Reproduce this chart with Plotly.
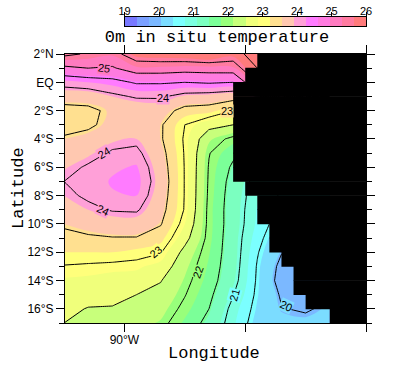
import numpy as np
import plotly.graph_objects as go

lats = [2, 1, 0, -1, -2, -3, -4, -5, -6, -7, -8, -9, -10, -11, -12, -13, -14, -15, -16, -17]
lons = [-95, -93, -91, -89, -87, -85, -83, -81, -79, -77, -75, -73]

t_95 = [25.6, 24.9, 24.15, 23.7, 23.35, 23.35, 23.55, 23.7, 23.87, 24.0, 23.9, 23.75, 23.55, 23.4, 23.2, 22.98, 22.82, 22.7, 22.6, 22.5]
t_93 = [25.45, 25.0, 24.25, 23.7, 23.4, 23.42, 23.65, 23.85, 24.05, 24.1, 24.07, 23.9, 23.65, 23.45, 23.2, 22.95, 22.8, 22.65, 22.48, 22.4]
t_91 = [25.35, 24.95, 24.35, 23.9, 23.6, 23.65, 23.85, 24.05, 24.2, 24.28, 24.22, 24.03, 23.75, 23.48, 23.2, 22.92, 22.75, 22.62, 22.47, 22.35]
t_89 = [25.75, 25.25, 24.55, 24.05, 23.65, 23.65, 23.9, 24.1, 24.28, 24.35, 24.25, 24.05, 23.75, 23.48, 23.12, 22.9, 22.72, 22.5, 22.35, 22.25]
t_87 = [25.8, 25.25, 24.55, 24.05, 23.7, 23.55, 23.55, 23.65, 23.72, 23.77, 23.72, 23.65, 23.53, 23.3, 23.03, 22.75, 22.52, 22.38, 22.25, 22.12]
t_85 = [25.85, 25.2, 24.5, 23.85, 23.35, 23.0, 22.95, 22.97, 22.98, 22.98, 22.98, 22.97, 22.85, 22.65, 22.37, 22.22, 22.12, 22.02, 21.9, 21.75]
t_83 = [25.95, 25.22, 24.55, 23.8, 23.3, 22.65, 22.2, 22.02, 21.97, 21.95, 21.93, 21.9, 21.9, 21.88, 21.82, 21.76, 21.7, 21.6, 21.5, 21.37]
t_81 = [25.75, 25.25, 24.5, 23.7, 23.0, 22.5, 21.9, 21.6, 21.42, 21.32, 21.27, 21.25, 21.25, 21.22, 21.22, 21.2, 21.15, 21.02, 20.87, 20.8]
t_79 = [26.3, 26.0, 25.5, 24.0, 22.8, 22.2, 21.6, 21.2, 21.0, 20.85, 20.78, 20.73, 20.7, 20.62, 20.53, 20.47, 20.45, 20.42, 20.37, 20.3]
t_77 = [26.4, 25.8, 25.0, 24.0, 22.5, 21.8, 21.2, 20.9, 20.7, 20.55, 20.45, 20.4, 20.3, 20.15, 20.02, 19.88, 19.82, 19.95, 20.02, 20.15]
t_75 = [26.4, 25.8, 25.0, 24.0, 22.5, 21.8, 21.2, 20.9, 20.7, 20.55, 20.45, 20.4, 20.3, 20.1, 19.95, 19.85, 19.85, 19.85, 19.95, 20.12]
t_73 = [26.4, 25.8, 25.0, 24.0, 22.5, 21.8, 21.2, 20.9, 20.7, 20.55, 20.45, 20.4, 20.3, 20.1, 20.0, 19.95, 19.95, 20.0, 20.1, 20.15]
columns = [t_95, t_93, t_91, t_89, t_87, t_85, t_83, t_81, t_79, t_77, t_75, t_73]

# First land longitude in each 1-degree latitude row, north to south
land_start = [-79, -80, -81, -81, -81, -81, -81, -81, -81, -80, -79, -79, -78, -78, -77, -76, -76, -75, -73]

band_colors = ["#7878ff", "#7ba0ff", "#7bb8ff", "#7bdcff", "#7bffff", "#7bffe0", "#7bffc0", "#7bff98",
               "#98ff7b", "#c8ff7b", "#f0ff7b", "#ffff7b", "#ffe090", "#ffc8b0", "#ffa0d8", "#ff7bff",
               "#ff7be0", "#ff7bc0", "#ff7ba0", "#ff7b7b"]

lat_ticks = [2, 0, -2, -4, -6, -8, -10, -12, -14, -16]
lat_labels = ["2°N", "EQ", "2°S", "4°S", "6°S", "8°S", "10°S", "12°S", "14°S", "16°S"]
lon_ticks = [-90, -80, -70]
lon_labels = ["90°W", "", ""]
bar_ticks = [19, 20, 21, 22, 23, 24, 25, 26]

label_text = ["25", "24", "23", "24", "24", "23", "22", "21", "20"]
label_lon = [-91.7, -86.8, -81.5, -91.7, -91.8, -87.4, -83.9, -80.9, -76.6]
label_lat = [1.0, -1.1, -2.0, -5.0, -9.0, -12.0, -13.4, -15.0, -15.8]
label_angle = [8, 0, 0, -30, 25, -40, -70, -75, 25]
label_bg = ["#ff7bc0", "#ffa0d8", "#ffe090", "#ffa0d8", "#ffa0d8", "#ffff7b", "#98ff7b", "#7bffff", "#7bdcff"]

FONT = "Liberation Mono"
SANS = "Liberation Sans"

z = np.array(columns).T[::-1]
y_up = lats[::-1]
n = len(band_colors)
scale = []
for i, c in enumerate(band_colors):
    scale += [[i / n, c], [(i + 1) / n, c]]

fig = go.Figure()
fig.add_trace(go.Contour(
    x=lons, y=y_up, z=z, zmin=19, zmax=26, colorscale=scale, showscale=False,
    autocontour=False, contours=dict(start=19, end=26, size=0.35, coloring="fill", showlines=False),
    line=dict(width=0), hoverinfo="skip",
))
for start, end in [(19.5, 25.5), (20, 26)]:
    fig.add_trace(go.Contour(
        x=lons, y=y_up, z=z, showscale=False, autocontour=False,
        contours=dict(start=start, end=end, size=1, coloring="none"),
        line=dict(color="black", width=1, smoothing=0), hoverinfo="skip",
    ))

# Land as black horizontal bars (bars are drawn above contour layers)
fig.add_trace(go.Bar(
    y=[la - 0.5 for la in lats[:-1]], x=[-70 - s for s in land_start], base=land_start,
    width=1.04, orientation="h", marker=dict(color="black", line=dict(width=0)), hoverinfo="skip",
))

# Colour key
key_edges = [19 + 0.35 * i for i in range(n + 1)]
key_mid = [19 + 0.35 * (i + 0.5) for i in range(n)]
fig.add_trace(go.Heatmap(
    x=key_edges, y=[0, 1], z=[key_mid], zmin=19, zmax=26, colorscale=scale, showscale=False,
    xaxis="x2", yaxis="y2", hoverinfo="skip",
))

axis = dict(showline=True, linecolor="black", linewidth=1, mirror="allticks", ticks="outside",
            ticklen=8, tickcolor="black", showgrid=False, zeroline=False, automargin=False,
            tickfont=dict(family=SANS, size=12, color="black"))
fig.update_layout(
    width=395, height=373, margin=dict(l=65, r=29, t=0, b=50), autosize=False,
    paper_bgcolor="white", plot_bgcolor="white", showlegend=False,
    title=dict(text="0m in situ temperature", x=217 / 395, xanchor="center", y=1 - 36 / 373, yanchor="middle",
               font=dict(family=FONT, size=17, color="black")),
    xaxis=dict(axis, range=[-94.92, -70], tickmode="array", tickvals=lon_ticks, ticktext=lon_labels,
               ticklabelstandoff=-2),
    yaxis=dict(axis, range=[-17, 2], domain=[0, 269 / 323], tickmode="array", tickvals=lat_ticks, ticktext=lat_labels,
               minor=dict(dtick=1, ticks="outside", ticklen=5, tickcolor="black", showgrid=False)),
    xaxis2=dict(domain=[59.5 / 301, 1], range=[19, 26], anchor="y2", side="top", tickmode="array", tickvals=bar_ticks,
                ticks="outside", ticklen=4, tickcolor="black", showline=True, mirror=True, linecolor="black",
                showgrid=False, zeroline=False, automargin=False, ticklabelstandoff=-7,
                tickfont=dict(family=SANS, size=11, color="black")),
    yaxis2=dict(domain=[297 / 323, 306 / 323], range=[0, 1], anchor="x2", showticklabels=False, ticks="",
                showline=True, mirror=True, linecolor="black", showgrid=False, zeroline=False, automargin=False),
)
for t, lo, la, a, bg in zip(label_text, label_lon, label_lat, label_angle, label_bg):
    fig.add_annotation(x=lo, y=la, text=t, textangle=a, showarrow=False, bgcolor=bg, borderpad=0,
                       font=dict(family=SANS, size=11, color="black"))
fig.add_annotation(xref="paper", yref="paper", x=(214 - 65) / 301, y=(323 - 353) / 323, text="Longitude",
                   showarrow=False, xanchor="center", yanchor="middle", font=dict(family=FONT, size=17, color="black"))
fig.add_annotation(xref="paper", yref="paper", x=(18 - 65) / 301, y=(323 - 188) / 323, text="Latitude", textangle=-90,
                   showarrow=False, xanchor="center", yanchor="middle", font=dict(family=FONT, size=17, color="black"))
fig.write_html("out.html", config=dict(displayModeBar=False), post_script="document.body.style.margin='0';")
